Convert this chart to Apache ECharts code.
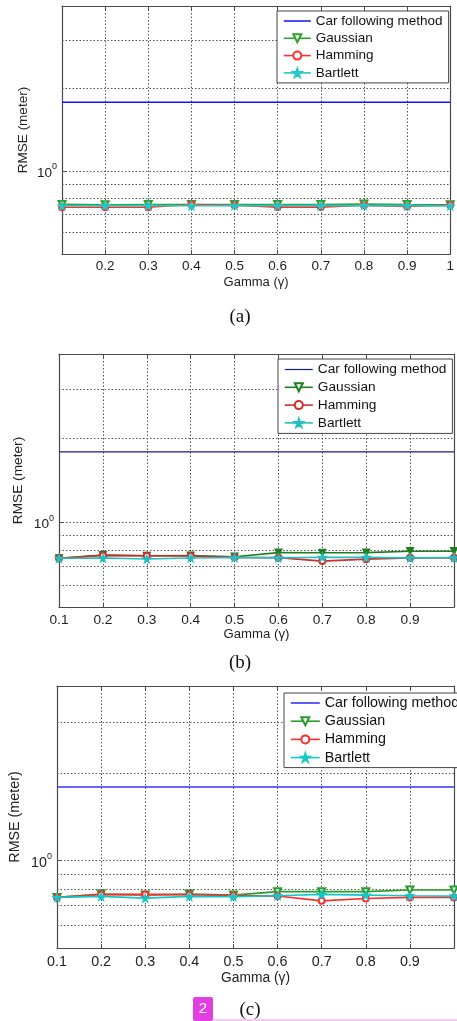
<!DOCTYPE html>
<html>
<head>
<meta charset="utf-8">
<script src="https://cdn.jsdelivr.net/npm/echarts@6/dist/echarts.min.js"></script>
<style>
html,body{margin:0;padding:0;background:#fff;}
#chart{width:457px;height:1021px;}
</style>
</head>
<body>
<div id="chart"></div>
<script>
// ---------------- data ----------------
const gamma = [0.1, 0.2, 0.3, 0.4, 0.5, 0.6, 0.7, 0.8, 0.9, 1.0];
const seriesNames = ['Car following method', 'Gaussian', 'Hamming', 'Bartlett'];

// panel (a)
const carA      = [1.785, 1.785, 1.785, 1.785, 1.785, 1.785, 1.785, 1.785, 1.785, 1.785];
const gaussianA = [0.758, 0.756, 0.757, 0.757, 0.757, 0.757, 0.757, 0.760, 0.757, 0.756];
const hammingA  = [0.740, 0.740, 0.740, 0.757, 0.752, 0.741, 0.741, 0.752, 0.745, 0.754];
const bartlettA = [0.749, 0.750, 0.750, 0.749, 0.751, 0.750, 0.750, 0.751, 0.750, 0.748];

// panel (b)
const carB      = [1.788, 1.788, 1.788, 1.788, 1.788, 1.788, 1.788, 1.788, 1.788, 1.788];
const gaussianB = [0.746, 0.766, 0.762, 0.763, 0.756, 0.782, 0.781, 0.782, 0.791, 0.791];
const hammingB  = [0.746, 0.764, 0.762, 0.760, 0.752, 0.750, 0.729, 0.741, 0.749, 0.749];
const bartlettB = [0.746, 0.748, 0.742, 0.748, 0.751, 0.749, 0.753, 0.752, 0.749, 0.750];

// panel (c)
const carC      = [1.795, 1.795, 1.795, 1.795, 1.795, 1.795, 1.795, 1.795, 1.795, 1.795];
const gaussianC = [0.747, 0.767, 0.762, 0.767, 0.761, 0.782, 0.782, 0.782, 0.792, 0.792];
const hammingC  = [0.747, 0.764, 0.765, 0.763, 0.758, 0.755, 0.727, 0.741, 0.747, 0.747];
const bartlettC = [0.747, 0.753, 0.743, 0.753, 0.751, 0.757, 0.765, 0.761, 0.757, 0.755];

// tick labels
const xTickLabelsA = ['', '0.2', '0.3', '0.4', '0.5', '0.6', '0.7', '0.8', '0.9', '1'];
const xTickLabelsB = ['0.1', '0.2', '0.3', '0.4', '0.5', '0.6', '0.7', '0.8', '0.9', ''];
const xTickLabelsC = ['0.1', '0.2', '0.3', '0.4', '0.5', '0.6', '0.7', '0.8', '0.9', ''];
const yGridValues = [0.6, 0.7, 0.8, 0.9, 1, 2, 3];
const yMajorLabel = {base: '10', exp: '0'};
const captions = ['(a)', '(b)', '(c)'];
const xAxisTitle = 'Gamma (\u03b3)';
const yAxisTitle = 'RMSE (meter)';

// ---------------- layout / style ----------------
const FONT = 'Liberation Sans, Arial, Helvetica, sans-serif';
const panels = [
  {grid: {left: 62, top: 6, width: 389, height: 248}, xl: xTickLabelsA,
   data: [carA, gaussianA, hammingA, bartlettA],
   colors: ['#1010ff', '#2ea02e', '#ff3030', '#20c8c8'],
   fs: 13.5, carWidth: 1.5, lblMargin: 5, nameGapX: 22, nameGapY: 32, gSym: 'emptyTriangle',
   legend: {left: 277, top: 11, padding: [3, 6, 3, 6], itemGap: 3.3, itemWidth: 27}},
  {grid: {left: 59, top: 354, width: 395, height: 253}, xl: xTickLabelsB,
   data: [carB, gaussianB, hammingB, bartlettB],
   colors: ['#1a1a90', '#1e7e1e', '#d42a2a', '#22c0c0'],
   fs: 13.7, carWidth: 1.2, lblMargin: 6, nameGapX: 21, nameGapY: 34, gSym: 'triangle',
   legend: {left: 278, top: 359, padding: [3.5, 6, 3.5, 6], itemGap: 3.8, itemWidth: 28}},
  {grid: {left: 56, top: 686, width: 410, height: 262}, xl: xTickLabelsC,
   data: [carC, gaussianC, hammingC, bartlettC],
   colors: ['#3535ff', '#2a9a2a', '#ff2a2a', '#12c8c8'],
   fs: 14.3, carWidth: 1.6, lblMargin: 7, nameGapX: 23.5, nameGapY: 35, gSym: 'emptyTriangle',
   legend: {left: 284, top: 693, padding: [3, 6, 3, 6], itemGap: 4.2, itemWidth: 29}}
];

const STAR = 'path://M50,0 L61,35 L98,35 L68,57 L79,91 L50,70 L21,91 L32,57 L2,35 L39,35 Z';
const AXIS_COLOR = '#4a4a4a';
const GRID_STYLE = {color: '#555', width: 1, type: [1.5, 2]};

const grids = [], xAxes = [], yAxes = [], legends = [], series = [];

panels.forEach((p, i) => {
  grids.push(Object.assign({containLabel: false}, p.grid));
  const xl = p.xl;
  xAxes.push({
    type: 'value', gridIndex: i, min: 0.1, max: 1.0, interval: 0.1, position: 'bottom',
    name: xAxisTitle, nameLocation: 'middle', nameGap: p.nameGapX,
    nameTextStyle: {fontFamily: FONT, fontSize: p.fs - 0.5, color: '#222'},
    axisLine: {show: true, onZero: false, lineStyle: {color: AXIS_COLOR, width: 1.2}},
    axisTick: {show: true, inside: true, length: 4, lineStyle: {color: AXIS_COLOR}},
    axisLabel: {margin: p.lblMargin, fontFamily: FONT, fontSize: p.fs, color: '#222',
      formatter: v => { const k = Math.round(v * 10) - 1; return xl[k] !== undefined ? xl[k] : ''; }},
    splitLine: {show: true, lineStyle: GRID_STYLE}
  });
  xAxes.push({
    type: 'value', gridIndex: i, min: 0.1, max: 1.0, interval: 0.1, position: 'top',
    axisLine: {show: true, onZero: false, lineStyle: {color: AXIS_COLOR, width: 1.2}},
    axisTick: {show: true, inside: true, length: 4, lineStyle: {color: AXIS_COLOR}},
    axisLabel: {show: false}, splitLine: {show: false}
  });
  yAxes.push({
    type: 'log', logBase: 10, gridIndex: i, min: 0.5, max: 4, position: 'left',
    name: yAxisTitle, nameLocation: 'middle', nameGap: p.nameGapY, nameRotate: 90,
    nameMoveOverlap: false,
    nameTextStyle: {fontFamily: FONT, fontSize: p.fs, color: '#222'},
    axisLine: {show: true, onZero: false, lineStyle: {color: AXIS_COLOR, width: 1.2}},
    axisTick: {show: true, inside: true, length: 4, lineStyle: {color: AXIS_COLOR}},
    splitLine: {show: false},
    axisLabel: {margin: 5, color: '#222',
      formatter: v => (Math.abs(v - 1) < 1e-9 ? '{b|' + yMajorLabel.base + '}{s|' + yMajorLabel.exp + '}' : ''),
      rich: {
        b: {fontFamily: FONT, fontSize: p.fs, color: '#222', lineHeight: 18, verticalAlign: 'bottom'},
        s: {fontFamily: FONT, fontSize: 9, color: '#222', lineHeight: 6, verticalAlign: 'top'}
      }}
  });
  yAxes.push({
    type: 'log', logBase: 10, gridIndex: i, min: 0.5, max: 4, position: 'right',
    axisLine: {show: true, onZero: false, lineStyle: {color: AXIS_COLOR, width: 1.2}},
    axisTick: {show: false}, axisLabel: {show: false}, splitLine: {show: false}
  });

  const c = p.colors;
  const symbols = [
    {symbol: 'none'},
    {symbol: p.gSym, symbolRotate: 180, symbolSize: 7},
    {symbol: 'emptyCircle', symbolSize: 6},
    {symbol: STAR, symbolSize: 8}
  ];
  seriesNames.forEach((name, s) => {
    const vals = p.data[s];
    const ser = Object.assign({
      type: 'line', name: name, xAxisIndex: 2 * i, yAxisIndex: 2 * i,
      data: gamma.map((g, k) => [g, vals[k]]),
      showAllSymbol: true, clip: false, z: 3 + s,
      lineStyle: {color: c[s], width: s === 0 ? p.carWidth : 1.6},
      itemStyle: {color: c[s], borderColor: c[s], borderWidth: 1.2},
      emphasis: {disabled: true}, silent: true
    }, symbols[s]);
    if (s === 0) {
      ser.markLine = {
        silent: true, z: 1, symbol: ['none', 'none'], animation: false,
        label: {show: false}, lineStyle: GRID_STYLE, emphasis: {disabled: true},
        data: yGridValues.map(v => ({yAxis: v}))
      };
    }
    series.push(ser);
  });

  legends.push({
    orient: 'vertical', left: p.legend.left, top: p.legend.top,
    padding: p.legend.padding, itemGap: p.legend.itemGap,
    itemWidth: p.legend.itemWidth, itemHeight: 10,
    backgroundColor: '#fff', borderColor: '#444', borderWidth: 1,
    selectedMode: false,
    textStyle: {fontFamily: FONT, fontSize: p.fs, color: '#111', lineHeight: 14},
    data: seriesNames.map((name, s) => (s === 0 ? {
      name: name,
      itemStyle: {opacity: 0},
      lineStyle: {color: c[s], width: p.carWidth, opacity: 1}
    } : {
      name: name,
      itemStyle: {color: c[s], borderColor: c[s]},
      lineStyle: {color: c[s], width: 1.6}
    }))
  });
});

const captionPos = [[240, 317], [240, 663], [250, 1010]];
const graphic = captions.map((t, i) => ({
  type: 'text', x: captionPos[i][0], y: captionPos[i][1], silent: true,
  style: {text: t, font: '19px "Liberation Serif", "Times New Roman", serif', fill: '#111',
          align: 'center', verticalAlign: 'middle', textAlign: 'center', textVerticalAlign: 'middle'}
}));
graphic.push({type: 'rect', shape: {x: 193, y: 997, width: 20, height: 24, r: 2}, style: {fill: '#e23ee2'}, silent: true});
graphic.push({type: 'text', x: 203, y: 1009, silent: true,
  style: {text: '2', font: '15px ' + FONT, fill: '#fff', align: 'center', verticalAlign: 'middle',
          textAlign: 'center', textVerticalAlign: 'middle'}});
graphic.push({type: 'line', shape: {x1: 213, y1: 1020, x2: 457, y2: 1020}, style: {stroke: '#f2b8f2', lineWidth: 1.5}, silent: true});

const chart = echarts.init(document.getElementById('chart'), null, {renderer: 'canvas'});
chart.setOption({
  animation: false,
  backgroundColor: '#fff',
  grid: grids, xAxis: xAxes, yAxis: yAxes, legend: legends, series: series, graphic: graphic
});
</script>
</body>
</html>
